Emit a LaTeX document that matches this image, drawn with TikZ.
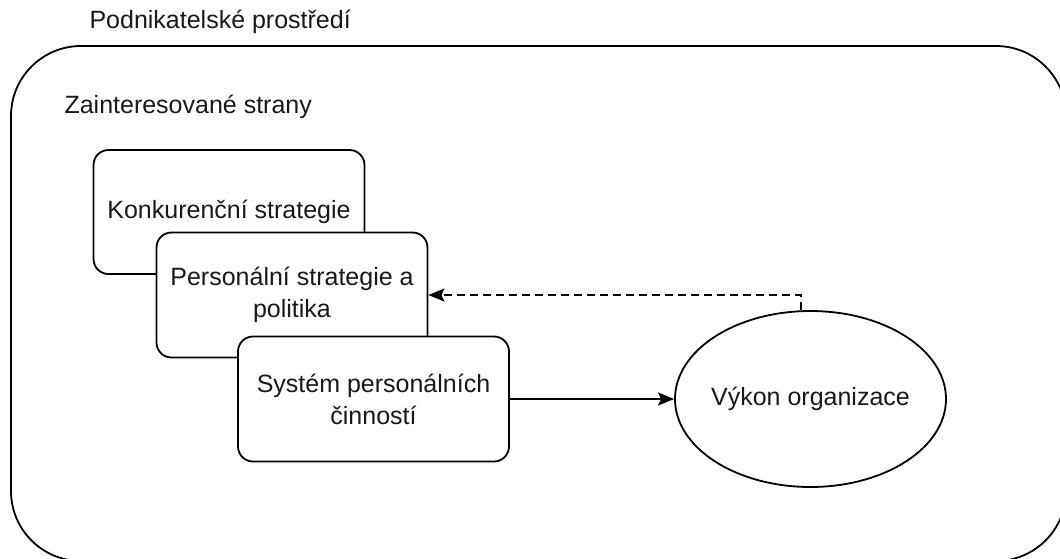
\documentclass[tikz,border=0pt]{standalone}
\usepackage{fontspec}
\setmainfont{Liberation Sans}
\usetikzlibrary{shapes.geometric,arrows.meta}
\begin{document}
\begin{tikzpicture}[x=1pt,y=-1pt,
  lbl/.style={font=\fontsize{25}{32}\selectfont, text=black!90},
  box/.style={draw, line width=1.8pt, rounded corners=15pt, fill=white,
    minimum width=271pt, minimum height=124pt, align=center, inner sep=4pt,
    lbl},
  arr/.style={line width=2pt, -{Stealth[length=16pt,width=13pt,inset=3pt]}}]
  \useasboundingbox (0,0) rectangle (1060,558);
  % surrounding business environment
  \draw[line width=1.8pt, rounded corners=70pt] (11,46) rectangle (1066,561);
  \node[lbl, anchor=west] (env) at (86,22) {Podnikatelské prostředí};
  \node[lbl, anchor=west] (stake) at (61,107) {Zainteresované strany};
  % stacked strategy boxes
  \node[box] (comp) at (229,212) {Konkurenční strategie};
  \node[box, minimum height=125pt] (pers) at (292,295) {Personální strategie a\\politika};
  \node[box, minimum height=125pt] (sys) at (373.5,399) {Systém personálních\\činností};
  % organisational performance
  \node[ellipse, draw, line width=1.8pt, minimum width=271pt, minimum height=176pt,
    inner xsep=-12pt, inner ysep=0pt, lbl] (perf) at (810.5,399) {Výkon organizace};
  \draw[arr] (sys.east) -- (perf.west);
  \draw[arr, dash pattern=on 8pt off 5pt] ([xshift=-10pt]perf.north) |- (pers.east);
\end{tikzpicture}
\end{document}
